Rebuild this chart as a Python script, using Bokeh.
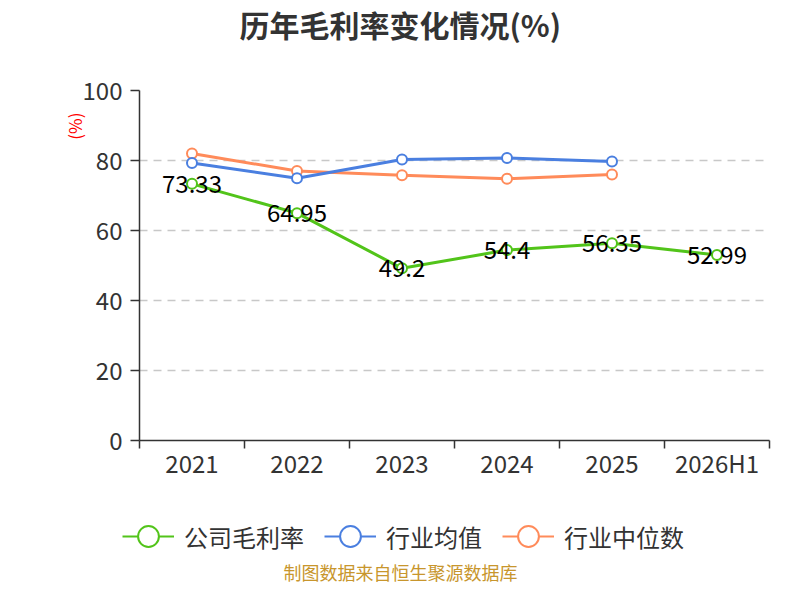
from bokeh.plotting import figure
from bokeh.layouts import column
from bokeh.models import (Range1d, FixedTicker, Title, Legend, LegendItem, ColumnDataSource, Label)
from bokeh.core.properties import value
from bokeh.embed import file_html
from bokeh.resources import INLINE

categories = ["2021", "2022", "2023", "2024", "2025", "2026H1"]
company = [73.33, 64.95, 49.2, 54.4, 56.35, 52.99]
industry_avg = [79.3, 74.9, 80.3, 80.7, 79.7]
industry_median = [82.0, 77.0, 75.8, 74.8, 76.0]
y_ticks = [0, 20, 40, 60, 80, 100]

title_text = "历年毛利率变化情况(%)"
footer_text = "制图数据来自恒生聚源数据库"
unit_text = "(%)"
series_names = ["公司毛利率", "行业均值", "行业中位数"]

GREEN = "#52c41a"
BLUE = "#4a7fe0"
ORANGE = "#ff8b5a"
FONT = "Noto Sans CJK SC"
TXT = "#333333"

W = 784
H_MAIN = 490
H_FOOT = 94

n = len(categories)
centers = [i + 0.5 for i in range(n)]
bounds = list(range(n + 1))

p = figure(width=W, height=H_MAIN, output_backend="svg", toolbar_location=None,
           x_range=Range1d(0, n), y_range=Range1d(0, 100),
           min_border_left=139, min_border_right=15, min_border_top=90, min_border_bottom=50)
p.outline_line_color = None

# x axis
xa = p.xaxis[0]
xa.ticker = FixedTicker(ticks=centers, minor_ticks=bounds)
xa.major_label_overrides = {c: lab for c, lab in zip(centers, categories)}
xa.major_tick_out = 0
xa.major_tick_in = 0
xa.minor_tick_out = 8
xa.minor_tick_in = 0
xa.minor_tick_line_color = TXT
xa.minor_tick_line_width = 1.5
xa.axis_line_color = TXT
xa.axis_line_width = 1.5
xa.major_label_text_font = FONT
xa.major_label_text_font_size = "24px"
xa.major_label_text_color = TXT
xa.major_label_standoff = -4

# y axis
ya = p.yaxis[0]
ya.ticker = FixedTicker(ticks=y_ticks)
ya.major_tick_out = 9
ya.major_tick_in = 0
ya.minor_tick_out = 0
ya.minor_tick_in = 0
ya.major_tick_line_color = TXT
ya.major_tick_line_width = 1.5
ya.axis_line_color = TXT
ya.axis_line_width = 1.5
ya.major_label_text_font = FONT
ya.major_label_text_font_size = "24px"
ya.major_label_text_color = TXT
ya.major_label_standoff = 8

p.xgrid.grid_line_color = None
p.ygrid.ticker = FixedTicker(ticks=y_ticks[1:])
p.ygrid.grid_line_color = "#c8c8c8"
p.ygrid.grid_line_dash = "8 6"
p.ygrid.grid_line_width = 1.5

# series
src_c = ColumnDataSource(dict(x=centers, y=company, t=[str(v) for v in company]))
src_a = ColumnDataSource(dict(x=centers[:len(industry_avg)], y=industry_avg))
src_m = ColumnDataSource(dict(x=centers[:len(industry_median)], y=industry_median))

sources = [src_c, src_a, src_m]
colors = [GREEN, BLUE, ORANGE]

for src, col in list(zip(sources, colors))[::-1]:
    p.line("x", "y", source=src, line_color=col, line_width=3)
    p.scatter("x", "y", source=src, size=10, fill_color="white", line_color=col, line_width=2)

p.text("x", "y", text="t", source=src_c, text_font=value(FONT), text_font_size="24px",
       text_color="black", text_align="center", text_baseline="middle")

# above: spacer then title
p.add_layout(Title(text=" ", text_font_size="37px", standoff=0), "above")
p.add_layout(Title(text=title_text, align="left", offset=100, standoff=0, vertical_align="top",
                   text_font=FONT, text_font_size="30px", text_font_style="bold",
                   text_color=TXT), "above")

# left: unit label
p.add_layout(Title(text=unit_text, align="right", offset=22, standoff=-14, vertical_align="bottom",
                   text_font=FONT, text_font_size="17px", text_font_style="normal",
                   text_color="red"), "left")

# bottom strip: legend and source note
p2 = figure(width=W, height=H_FOOT, output_backend="svg", toolbar_location=None,
            x_range=Range1d(0, W), y_range=Range1d(0, H_FOOT),
            x_axis_location=None, y_axis_location=None, min_border=0)
p2.outline_line_color = None
p2.xgrid.grid_line_color = None
p2.ygrid.grid_line_color = None

has_fa = "frame_align" in p2.properties()
if has_fa:
    p2.frame_align = False
    leg_loc = (122, 22)
    leg_spacing = 20
else:
    p2.x_range = Range1d(139, 769)
    leg_loc = (0, 22)
    leg_spacing = 14

items = []
for name, src, col in zip(series_names, sources, colors):
    r1 = p2.line("x", "y", source=src, line_color=col, line_width=2, visible=False)
    r2 = p2.scatter("x", "y", source=src, size=10, fill_color="white", line_color=col,
                    line_width=2, visible=False)
    items.append(LegendItem(label=name, renderers=[r1, r2]))

legend = Legend(items=items, orientation="horizontal", location=leg_loc,
                glyph_width=52, glyph_height=52, label_standoff=10, spacing=leg_spacing,
                padding=0, margin=0, border_line_alpha=0, background_fill_alpha=0,
                inactive_fill_alpha=0,
                label_text_font=FONT, label_text_font_size="24px", label_text_color=TXT)
p2.add_layout(legend)
p2.add_layout(Label(x=400, y=13, text=footer_text, text_font=FONT, text_font_size="18px",
                    text_color="#c8962d", text_align="center", text_baseline="middle"))

open("out.html", "w").write(file_html(column(p, p2), INLINE))
